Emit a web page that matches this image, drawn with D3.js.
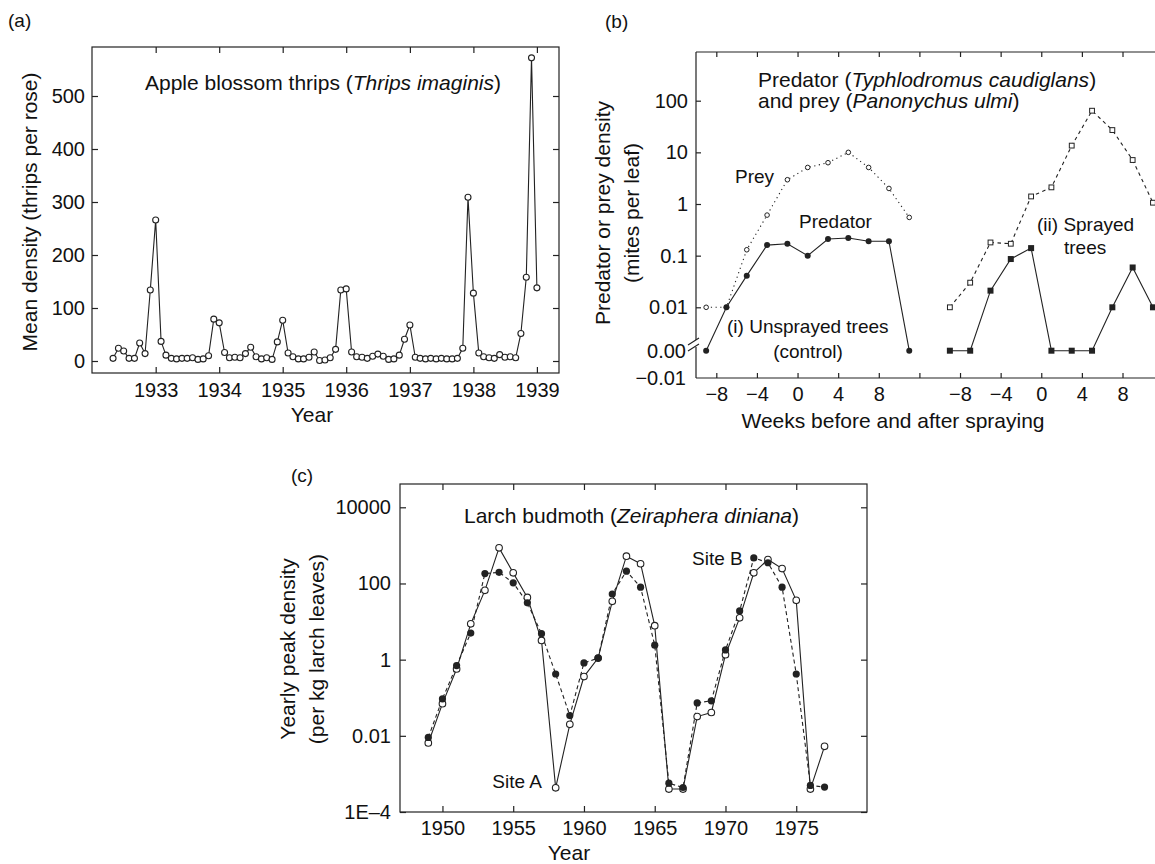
<!DOCTYPE html>
<html>
<head>
<meta charset="utf-8">
<script src="https://cdn.jsdelivr.net/npm/d3@7"></script>
<style>
  body { margin: 0; background: #fff; }
  svg text { font-family: "Liberation Sans", Arial, Helvetica, sans-serif; font-size: 19px; fill: #111; }
  svg text.title, svg text.axis-title { font-size: 21px; }
  .frame { fill: none; stroke: #222; stroke-width: 1.2; }
  .axis .domain { display: none; }
  .axis line { stroke: #222; stroke-width: 1.2; }
  .axis text { font-size: 20px; }
  .series { fill: none; stroke: #222; stroke-width: 1.1; }
</style>
</head>
<body>
<div id="chart"></div>
<script>

// (a) apple blossom thrips, one sample a month, May 1932 - Jan 1939
const thripsMonths = d3.timeMonth.range(new Date(1932, 4, 1), new Date(1939, 1, 1));
const thripsDensity = [5, 24, 19, 5, 5, 34, 14, 134, 266, 37, 11, 5, 4, 5, 5, 6, 3, 4, 10, 79,
    72, 16, 6, 7, 6, 14, 26, 8, 4, 6, 3, 36, 77, 15, 8, 4, 4, 7, 17, 1,
    2, 6, 22, 134, 136, 17, 8, 7, 5, 9, 13, 9, 3, 4, 11, 41, 68, 7, 5, 4,
    5, 4, 5, 4, 4, 5, 24, 309, 128, 15, 8, 6, 5, 12, 7, 8, 6, 52, 158, 572, 138];
const thripsYearTicks = [1933, 1934, 1935, 1936, 1937, 1938, 1939];
const thripsDensityTicks = [0, 100, 200, 300, 400, 500];

// (b) mites, weeks before/after spraying
const miteWeeks = [-9, -7, -5, -3, -1, 1, 3, 5, 7, 9, 11];
const preyUnsprayed = [0.01, 0.01, 0.13, 0.61, 2.95, 5.1, 6.3, 10, 5.1, 2.0, 0.55];
const predUnsprayed = [0, 0.01, 0.041, 0.16, 0.17, 0.1, 0.21, 0.22, 0.19, 0.19, 0];
const preySprayed = [0.01, 0.03, 0.18, 0.17, 1.4, 2.1, 13.5, 64, 27, 7.1, 1.06];
const predSprayed = [0, 0, 0.021, 0.086, 0.14, 0, 0, 0, 0.01, 0.059, 0.01];
const miteLogTicks = [0.01, 0.1, 1, 10, 100];
const miteZeroTicks = [0, -0.01];
const weekTicks = [-8, -4, 0, 4, 8];

// (c) larch budmoth
const budYears = [1949, 1950, 1951, 1952, 1953, 1954, 1955, 1956, 1957, 1958, 1959, 1960,
    1961, 1962, 1963, 1964, 1965, 1966, 1967, 1968, 1969, 1970, 1971, 1972, 1973, 1974,
    1975, 1976, 1977];
const siteA = [0.0065, 0.07, 0.57, 8.7, 66, 861, 190, 43, 3.2, 0.00043, 0.02, 0.36,
    1.1, 34, 520, 330, 7.8, 0.0004, 0.0004, 0.032, 0.041, 1.35, 12.5, 190, 425, 246,
    36, 0.0004, 0.0053];
const siteB = [0.0091, 0.093, 0.7, 5, 182, 196, 104, 31, 4.8, 0.42, 0.034, 0.82,
    1.1, 53, 210, 80, 2.4, 0.00057, 0.00044, 0.073, 0.083, 1.8, 19, 470, 350, 80,
    0.42, 0.0005, 0.00045];
const budYearTicks = [1950, 1955, 1960, 1965, 1970, 1975];
const budDensityTicks = [1e-4, 0.01, 1, 100, 1e4];

const ink = "#222";
const svg = d3.select("#chart").append("svg")
    .attr("width", 1155)
    .attr("height", 864);

// text with some italic bits, parts = [[string, italic?], ...]
function richText(g, x, y, parts) {
    let t = g.append("text").attr("class", "title").attr("x", x).attr("y", y);
    parts.forEach(p => {
        t.append("tspan").text(p[0]).style("font-style", p[1] ? "italic" : "normal");
    });
    return t;
}

function label(g, x, y, txt, anchor) {
    return g.append("text").attr("x", x).attr("y", y)
        .attr("text-anchor", anchor || "start").text(txt);
}

function xTitle(g, x, y, txt) {
    label(g, x, y, txt, "middle").attr("class", "axis-title");
}

function yTitle(g, x, y, txt) {
    g.append("text")
        .attr("class", "axis-title")
        .attr("transform", `translate(${x}, ${y}) rotate(-90)`)
        .attr("text-anchor", "middle")
        .text(txt);
}

// ---------------- (a)
function drawThrips() {
    let g = svg.append("g");
    let box = {left: 92, right: 559, top: 47, bottom: 373};

    let x = d3.scaleTime()
        .domain([new Date(1932, 0, 1), new Date(1939, 4, 8)])
        .range([box.left, box.right]);
    let y = d3.scaleLinear().domain([0, 500]).range([361, 96]);
    let yearDates = thripsYearTicks.map(yr => new Date(yr, 0, 1));

    g.append("rect").attr("class", "frame")
        .attr("x", box.left).attr("y", box.top)
        .attr("width", box.right - box.left).attr("height", box.bottom - box.top);

    g.append("g").attr("class", "axis")
        .attr("transform", `translate(0, ${box.bottom})`)
        .call(d3.axisBottom(x).tickValues(yearDates).tickFormat(d3.timeFormat("%Y"))
            .tickSize(-6).tickPadding(10));
    g.append("g").attr("class", "axis")
        .attr("transform", `translate(0, ${box.top})`)
        .call(d3.axisTop(x).tickValues(yearDates).tickFormat("").tickSize(-6));
    g.append("g").attr("class", "axis")
        .attr("transform", `translate(${box.left}, 0)`)
        .call(d3.axisLeft(y).tickValues(thripsDensityTicks).tickSize(-6).tickPadding(7));
    g.append("g").attr("class", "axis")
        .attr("transform", `translate(${box.right}, 0)`)
        .call(d3.axisRight(y).tickValues(thripsDensityTicks).tickFormat("").tickSize(-6));

    let line = d3.line()
        .x((d, i) => x(thripsMonths[i]))
        .y(d => y(d));
    g.append("path").attr("class", "series").attr("d", line(thripsDensity));

    g.selectAll(".thrips-pt")
        .data(thripsDensity)
        .enter()
        .append("circle")
        .attr("class", "thrips-pt")
        .attr("cx", (d, i) => x(thripsMonths[i]))
        .attr("cy", d => y(d))
        .attr("r", 3)
        .attr("fill", "#fff").attr("stroke", ink).attr("stroke-width", 1.1);

    label(g, 8, 27, "(a)");
    richText(g, 145, 90, [["Apple blossom thrips (", false], ["Thrips imaginis", true], [")", false]]);
    xTitle(g, 312, 422, "Year");
    yTitle(g, 37, 212, "Mean density (thrips per rose)");
}

// ---------------- (b)
function drawMites() {
    let g = svg.append("g");
    let box = {left: 696, right: 1155, top: 52, bottom: 378};
    let sprayShift = 24; // sprayed block sits 24 weeks further along the same axis

    let x = d3.scaleLinear().domain([-10, 35.2]).range([box.left, box.right]);
    let yLog = d3.scaleLog().domain([0.01, 100]).range([307.3, 100.7]);
    let yZero = d3.scaleLinear().domain([-0.01, 0]).range([box.bottom, 350.7]);
    let y = v => v > 0 ? yLog(v) : yZero(v);

    // frame: left, top, bottom (open on the right), with a break at 0.00
    g.append("path").attr("class", "frame")
        .attr("d", `M${box.left},${box.top}V340M${box.left},347V${box.bottom}` +
            `M${box.left},${box.top}H${box.right}M${box.left},${box.bottom}H${box.right}`);
    g.append("path").attr("class", "frame")
        .attr("d", `M${box.left - 8},345L${box.left + 3},338M${box.left - 8},351L${box.left + 3},344`);

    let allWeekTicks = weekTicks.concat([12]).concat(weekTicks.map(w => w + sprayShift));
    let weekFmt = d3.format("d");
    g.append("g").attr("class", "axis")
        .attr("transform", `translate(0, ${box.bottom})`)
        .call(d3.axisBottom(x).tickValues(allWeekTicks)
            .tickFormat(d => d === 12 ? "" : weekFmt(d > 12 ? d - sprayShift : d))
            .tickSize(-5).tickPadding(9));
    g.append("g").attr("class", "axis")
        .attr("transform", `translate(0, ${box.top})`)
        .call(d3.axisTop(x).tickValues(allWeekTicks).tickFormat("").tickSize(-5));
    g.append("g").attr("class", "axis")
        .attr("transform", `translate(${box.left}, 0)`)
        .call(d3.axisLeft(yLog).tickValues(miteLogTicks).tickFormat(d3.format("~g"))
            .tickSize(-5).tickPadding(8));
    g.append("g").attr("class", "axis")
        .attr("transform", `translate(${box.left}, 0)`)
        .call(d3.axisLeft(yZero).tickValues(miteZeroTicks).tickFormat(d3.format(".2f"))
            .tickSize(0).tickPadding(10));

    let line = shift => d3.line()
        .x((d, i) => x(miteWeeks[i] + shift))
        .y(d => y(d));

    g.append("path").attr("class", "series").attr("stroke-dasharray", "1.2,3.5")
        .attr("d", line(0)(preyUnsprayed));
    g.append("path").attr("class", "series").attr("stroke-dasharray", "3.5,3.5")
        .attr("d", line(sprayShift)(preySprayed));
    g.append("path").attr("class", "series").attr("d", line(0)(predUnsprayed));
    g.append("path").attr("class", "series").attr("d", line(sprayShift)(predSprayed));

    // prey unsprayed: small open circles
    g.selectAll(".prey-u").data(preyUnsprayed).enter().append("circle")
        .attr("class", "prey-u")
        .attr("cx", (d, i) => x(miteWeeks[i])).attr("cy", d => y(d))
        .attr("r", 2.3).attr("fill", "#fff").attr("stroke", ink).attr("stroke-width", 1);
    // predator unsprayed: filled circles
    g.selectAll(".pred-u").data(predUnsprayed).enter().append("circle")
        .attr("class", "pred-u")
        .attr("cx", (d, i) => x(miteWeeks[i])).attr("cy", d => y(d))
        .attr("r", 3).attr("fill", ink);
    // prey sprayed: open squares
    g.selectAll(".prey-s").data(preySprayed).enter().append("rect")
        .attr("class", "prey-s")
        .attr("x", (d, i) => x(miteWeeks[i] + sprayShift) - 2.4).attr("y", d => y(d) - 2.4)
        .attr("width", 4.8).attr("height", 4.8)
        .attr("fill", "#fff").attr("stroke", ink).attr("stroke-width", 1);
    // predator sprayed: filled squares
    g.selectAll(".pred-s").data(predSprayed).enter().append("rect")
        .attr("class", "pred-s")
        .attr("x", (d, i) => x(miteWeeks[i] + sprayShift) - 3).attr("y", d => y(d) - 3)
        .attr("width", 6).attr("height", 6).attr("fill", ink);

    label(g, 605, 28, "(b)");
    richText(g, 758, 87, [["Predator (", false], ["Typhlodromus caudiglans", true], [")", false]]);
    richText(g, 758, 108, [["and prey (", false], ["Panonychus ulmi", true], [")", false]]);
    label(g, 735, 183, "Prey");
    label(g, 799, 228, "Predator");
    label(g, 727, 333, "(i) Unsprayed trees");
    label(g, 808, 358, "(control)", "middle");
    label(g, 1037, 231, "(ii) Sprayed");
    label(g, 1064, 254, "trees");
    xTitle(g, 893, 428, "Weeks before and after spraying");
    yTitle(g, 610, 213, "Predator or prey density");
    yTitle(g, 639, 213, "(mites per leaf)");
}

// ---------------- (c)
function drawBudmoth() {
    let g = svg.append("g");
    let box = {left: 400, right: 867, top: 484, bottom: 812};

    let x = d3.scaleLinear().domain([1947, 1980]).range([box.left, box.right]);
    let y = d3.scaleLog().domain([1e-4, 1e4]).range([box.bottom, 507.3]);

    g.append("rect").attr("class", "frame")
        .attr("x", box.left).attr("y", box.top)
        .attr("width", box.right - box.left).attr("height", box.bottom - box.top);

    let densFmt = d => d === 1e-4 ? "1E\u20134" : d3.format("~g")(d);
    g.append("g").attr("class", "axis")
        .attr("transform", `translate(0, ${box.bottom})`)
        .call(d3.axisBottom(x).tickValues(budYearTicks).tickFormat(d3.format("d"))
            .tickSize(-6).tickPadding(9));
    g.append("g").attr("class", "axis")
        .attr("transform", `translate(0, ${box.top})`)
        .call(d3.axisTop(x).tickValues(budYearTicks).tickFormat("").tickSize(-6));
    g.append("g").attr("class", "axis")
        .attr("transform", `translate(${box.left}, 0)`)
        .call(d3.axisLeft(y).tickValues(budDensityTicks).tickFormat(densFmt)
            .tickSize(-6).tickPadding(9));
    g.append("g").attr("class", "axis")
        .attr("transform", `translate(${box.right}, 0)`)
        .call(d3.axisRight(y).tickValues(budDensityTicks).tickFormat("").tickSize(-6));

    let line = d3.line()
        .x((d, i) => x(budYears[i]))
        .y(d => y(d));
    g.append("path").attr("class", "series").attr("d", line(siteA));
    g.append("path").attr("class", "series").attr("stroke-dasharray", "4,3").attr("d", line(siteB));

    g.selectAll(".site-a").data(siteA).enter().append("circle")
        .attr("class", "site-a")
        .attr("cx", (d, i) => x(budYears[i])).attr("cy", d => y(d))
        .attr("r", 3.3).attr("fill", "#fff").attr("stroke", ink).attr("stroke-width", 1.1);
    g.selectAll(".site-b").data(siteB).enter().append("circle")
        .attr("class", "site-b")
        .attr("cx", (d, i) => x(budYears[i])).attr("cy", d => y(d))
        .attr("r", 3.6).attr("fill", ink);

    label(g, 291, 482, "(c)");
    richText(g, 464, 523, [["Larch budmoth (", false], ["Zeiraphera diniana", true], [")", false]]);
    label(g, 542, 788, "Site A", "end");
    label(g, 692, 565, "Site B");
    xTitle(g, 569, 860, "Year");
    yTitle(g, 295, 649, "Yearly peak density");
    yTitle(g, 324, 649, "(per kg larch leaves)");
}

drawThrips();
drawMites();
drawBudmoth();
</script>
</body>
</html>
